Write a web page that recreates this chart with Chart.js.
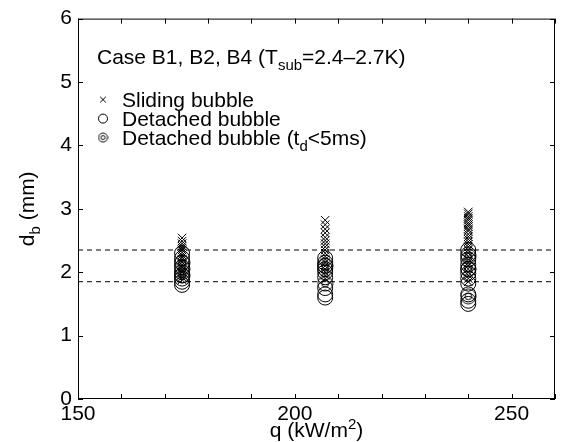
<!DOCTYPE html>
<html>
<head>
<meta charset="utf-8">
<script src="https://cdn.jsdelivr.net/npm/chart.js@4.4.1/dist/chart.umd.min.js"></script>
<style>
  html, body { margin: 0; padding: 0; background: #fff; }
</style>
</head>
<body>
<canvas id="c" width="569" height="442"></canvas>
<script>
// heat flux of each case (kW/m2)
const heatFlux = [174, 207, 240];

// bubble diameters (mm), one list per heat flux
const slidingD = [
  [2.54, 2.49, 2.45, 2.41, 2.38, 2.35, 2.31, 2.27, 2.24, 2.2, 2.16, 2.12, 2.08, 2.04, 2.0, 1.96, 1.92, 1.88],
  [2.82, 2.75, 2.68, 2.62, 2.55, 2.5, 2.45, 2.4, 2.35, 2.3, 2.25, 2.2, 2.15, 2.1, 2.05, 2.0, 1.95, 1.9],
  [2.95, 2.92, 2.88, 2.85, 2.82, 2.78, 2.75, 2.72, 2.68, 2.65, 2.6, 2.56, 2.52, 2.48, 2.44, 2.4, 2.35, 2.3, 2.25, 2.2, 2.15, 2.1, 2.05, 2.0, 1.95, 1.9, 1.85]
];
const detachedD = [
  [2.3, 2.22, 2.15, 2.08, 2.0, 1.95, 1.9, 1.85, 1.8],
  [2.22, 2.15, 2.1, 2.05, 2.0, 1.92, 1.75, 1.65, 1.6],
  [2.35, 2.28, 2.2, 2.12, 2.05, 1.98, 1.9, 1.82, 1.65, 1.55, 1.5]
];
const shortD = [
  [2.15, 2.05, 1.95],
  [2.1, 1.82],
  [2.25, 2.05, 1.62]
];

// dashed reference lines (mm)
const refLines = [2.35, 1.85];

const xTicks = [150, 200, 250];

function toPoints(lists) {
  const pts = [];
  lists.forEach((list, i) => list.forEach(d => pts.push({ x: heatFlux[i], y: d })));
  return pts;
}

// marker for the double circle
function doubleCircle(r) {
  const size = Math.ceil(r * 2 + 2);
  const cv = document.createElement('canvas');
  cv.width = size; cv.height = size;
  const g = cv.getContext('2d');
  g.strokeStyle = '#000';
  g.lineWidth = 1;
  g.beginPath(); g.arc(size / 2, size / 2, r, 0, Math.PI * 2); g.stroke();
  g.beginPath(); g.arc(size / 2, size / 2, r * 0.45, 0, Math.PI * 2); g.stroke();
  return cv;
}
const bigDouble = doubleCircle(7.5);
const smallDouble = doubleCircle(4.5);

const FONT = "'Liberation Sans', Arial, sans-serif";

// text with sub/superscripts: parts = [[text, 'n'|'sub'|'sup'], ...]
function richText(ctx, parts, x, y, size) {
  let cx = x;
  parts.forEach(([t, kind]) => {
    const s = kind === 'n' ? size : Math.round(size * 0.7);
    const dy = kind === 'sub' ? size * 0.3 : kind === 'sup' ? -size * 0.4 : 0;
    ctx.font = s + 'px ' + FONT;
    ctx.fillText(t, cx, y + dy);
    cx += ctx.measureText(t).width;
  });
  return cx - x;
}
function richWidth(ctx, parts, size) {
  let w = 0;
  parts.forEach(([t, kind]) => {
    const s = kind === 'n' ? size : Math.round(size * 0.7);
    ctx.font = s + 'px ' + FONT;
    w += ctx.measureText(t).width;
  });
  return w;
}

const decor = {
  id: 'decor',
  afterDraw(chart) {
    const ctx = chart.ctx;
    const { left, right, top, bottom } = chart.chartArea;
    const xs = chart.scales.x, ys = chart.scales.y;
    ctx.save();
    ctx.strokeStyle = '#000';
    ctx.lineWidth = 1;
    ctx.strokeRect(left + 0.5, top + 0.5, right - left - 1, bottom - top - 1);
    // inward ticks
    ctx.beginPath();
    for (let v = 150; v <= 260; v += 10) {
      const px = Math.round(xs.getPixelForValue(v)) + 0.5;
      ctx.moveTo(px, bottom); ctx.lineTo(px, bottom - 5);
      ctx.moveTo(px, top); ctx.lineTo(px, top + 5);
    }
    for (let v = 0; v <= 6; v++) {
      const py = Math.round(ys.getPixelForValue(v)) + 0.5;
      ctx.moveTo(left, py); ctx.lineTo(left + 5, py);
      ctx.moveTo(right, py); ctx.lineTo(right - 5, py);
    }
    ctx.stroke();

    ctx.fillStyle = '#000';
    ctx.textBaseline = 'alphabetic';
    ctx.textAlign = 'left';
    // case label
    richText(ctx, [['Case B1, B2, B4 (T', 'n'], ['sub', 'sub'], ['=2.4\u20132.7K)', 'n']], left + 19, top + 45, 21);
    // legend
    const lx = left + 25, tx = left + 44;
    Chart.helpers.drawPoint(ctx, { pointStyle: 'crossRot', radius: 4, borderWidth: 1 }, lx, top + 81);
    richText(ctx, [['Sliding bubble', 'n']], tx, top + 88, 21);
    ctx.beginPath(); ctx.arc(lx, top + 100, 4.5, 0, Math.PI * 2); ctx.stroke();
    richText(ctx, [['Detached bubble', 'n']], tx, top + 107, 21);
    ctx.drawImage(smallDouble, lx - smallDouble.width / 2, top + 119 - smallDouble.height / 2);
    richText(ctx, [['Detached bubble (t', 'n'], ['d', 'sub'], ['<5ms)', 'n']], tx, top + 126, 21);

    // x axis title
    const xt = [['q (kW/m', 'n'], ['2', 'sup'], [')', 'n']];
    const xw = richWidth(ctx, xt, 21);
    richText(ctx, xt, (left + right) / 2 - xw / 2, 437, 21);
    // y axis title
    ctx.translate(34, (top + bottom) / 2);
    ctx.rotate(-Math.PI / 2);
    const yt = [['d', 'n'], ['b', 'sub'], [' (mm)', 'n']];
    const yw = richWidth(ctx, yt, 21);
    richText(ctx, yt, -yw / 2, 0, 21);
    ctx.restore();
  }
};

const refDatasets = refLines.map(v => ({
  type: 'line',
  data: [{ x: 150, y: v }, { x: 260, y: v }],
  borderColor: '#000',
  borderWidth: 1,
  borderDash: [5, 4],
  pointRadius: 0,
  fill: false
}));

new Chart(document.getElementById('c'), {
  type: 'scatter',
  data: {
    datasets: [
      ...refDatasets,
      {
        label: 'Detached bubble',
        data: toPoints(detachedD),
        pointStyle: 'circle',
        pointRadius: 7.5,
        borderColor: '#000',
        backgroundColor: 'rgba(0,0,0,0)',
        borderWidth: 1
      },
      {
        label: 'Detached bubble (td<5ms)',
        data: toPoints(shortD),
        pointStyle: bigDouble,
        pointRadius: 7.5
      },
      {
        label: 'Sliding bubble',
        data: toPoints(slidingD),
        pointStyle: 'crossRot',
        pointRadius: 6,
        borderColor: '#000',
        borderWidth: 1
      }
    ]
  },
  plugins: [decor],
  options: {
    responsive: false,
    animation: false,
    devicePixelRatio: 1,
    layout: { padding: { top: 17, right: 14, left: 0, bottom: 0 } },
    plugins: { legend: { display: false }, tooltip: { enabled: false } },
    scales: {
      x: {
        type: 'linear',
        min: 150, max: 260,
        grid: { display: false, drawTicks: false },
        border: { display: false },
        ticks: {
          stepSize: 10,
          padding: 3,
          color: '#000',
          font: { family: FONT, size: 21 },
          maxRotation: 0,
          autoSkip: false,
          callback: v => xTicks.includes(v) ? String(v) : ''
        },
        afterFit: s => { s.height = 43; }
      },
      y: {
        min: 0, max: 6,
        grid: { display: false, drawTicks: false },
        border: { display: false },
        ticks: {
          stepSize: 1,
          padding: 6,
          color: '#000',
          font: { family: FONT, size: 21 }
        },
        afterFit: s => { s.width = 78; }
      }
    }
  }
});
</script>
</body>
</html>
